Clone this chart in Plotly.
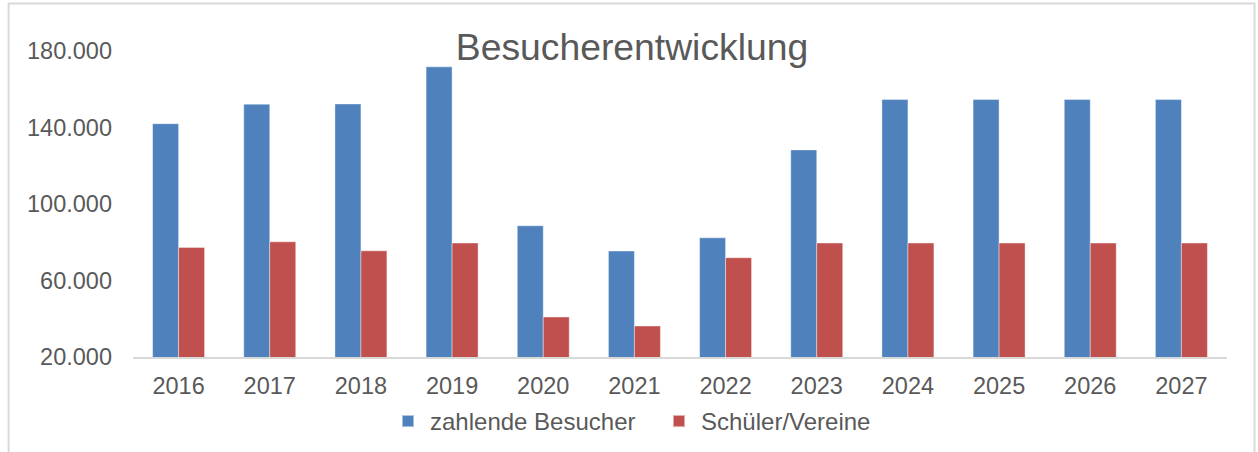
import plotly.graph_objects as go

years = ["2016", "2017", "2018", "2019", "2020", "2021", "2022", "2023", "2024", "2025", "2026", "2027"]
zahlende = [142000, 152200, 152300, 171700, 88600, 75400, 82300, 128300, 154600, 154600, 154600, 154600]
schueler = [77300, 80200, 75500, 79600, 40900, 36200, 71900, 79600, 79600, 79600, 79600, 79600]
ytick_vals = [20000, 60000, 100000, 140000, 180000]
ytick_text = ["20.000", "60.000", "100.000", "140.000", "180.000"]

W, H = 1258, 452
L, R, T, B = 133.4, 30.5, 51, 94.7
pw, ph = W - L - R, H - T - B

def px_x(x):
    return (x - L) / pw

def px_y(y):
    return (H - B - y) / ph

font = "Liberation Sans, Arial, sans-serif"
grey = "#595959"

fig = go.Figure()
fig.add_trace(go.Bar(x=years, y=zahlende, name="zahlende Besucher",
                     marker=dict(color="#4F81BD", line=dict(color="rgba(255,255,255,0.5)", width=0.8))))
fig.add_trace(go.Bar(x=years, y=schueler, name="Schüler/Vereine",
                     marker=dict(color="#C0504D", line=dict(color="rgba(255,255,255,0.5)", width=0.8))))

fig.update_layout(
    width=W, height=H,
    margin=dict(l=L, r=R, t=T, b=B, pad=0, autoexpand=False),
    paper_bgcolor="white", plot_bgcolor="white",
    barmode="group", bargap=0.43, bargroupgap=0,
    font=dict(family=font, color=grey, size=23.5),
    title=dict(text="Besucherentwicklung", x=632 / W, xref="container", xanchor="center",
               y=1 - 47 / H, yref="container", yanchor="middle",
               font=dict(family=font, size=37.3, color=grey)),
    showlegend=True,
    legend=dict(orientation="h", xref="container", yref="container",
                x=386 / W, xanchor="left", y=1 - 421.5 / H, yanchor="middle",
                font=dict(family=font, size=24, color=grey), itemsizing="constant",
                itemwidth=34, entrywidth=222,
                traceorder="normal", bgcolor="rgba(0,0,0,0)"),
    xaxis=dict(showline=True, linecolor="#D9D9D9", linewidth=2, showgrid=False, zeroline=False,
               automargin=False,
               ticks="", tickfont=dict(size=23.5, color=grey), ticklabelstandoff=7),
    yaxis=dict(range=[20000, 180000], showgrid=False, zeroline=False, showline=False,
               automargin=False,
               tickvals=ytick_vals, ticktext=ytick_text, ticks="",
               tickfont=dict(size=23.5, color=grey), ticklabelstandoff=20),
    shapes=[dict(type="rect", xref="paper", yref="paper",
                 x0=px_x(9), x1=px_x(1255), y0=px_y(470), y1=px_y(3.5),
                 line=dict(color="#D9D9D9", width=2), fillcolor="rgba(0,0,0,0)", layer="below")],
)

fig.write_html("out.html", config={"displayModeBar": False},
               post_script="document.body.style.margin='0';")
